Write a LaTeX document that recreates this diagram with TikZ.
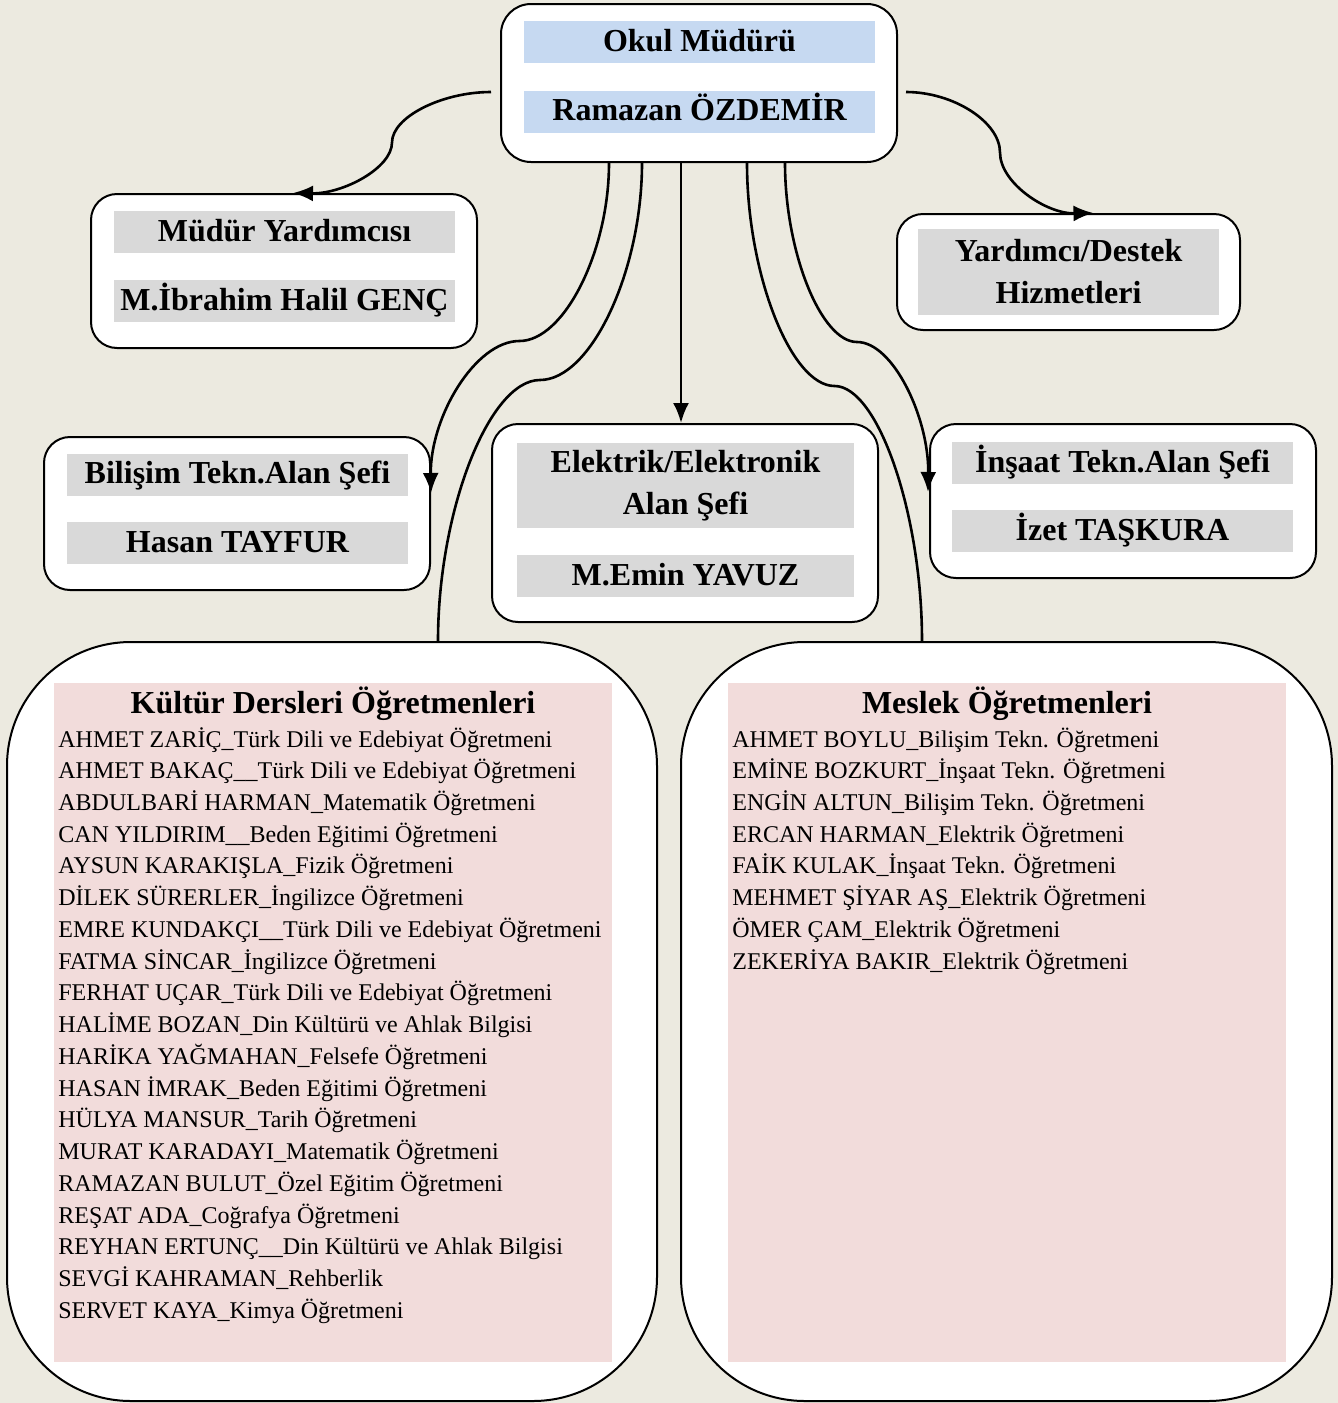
\documentclass[tikz,border=0pt]{standalone}
\usepackage{fontspec}
\setmainfont{Liberation Serif}
\usetikzlibrary{positioning,calc,arrows.meta}
\definecolor{pagebg}{RGB}{236,234,224}
\definecolor{barblue}{RGB}{198,217,241}
\definecolor{bargray}{RGB}{217,217,217}
\definecolor{listpink}{RGB}{242,220,219}

\begin{document}
\begin{tikzpicture}[
      x=0.5pt, y=-0.5pt,
      orgbox/.style={draw,line width=1pt,fill=white,rounded corners=13pt,inner sep=0pt},
      bigbox/.style={orgbox,rounded corners=62pt,minimum width=325pt,minimum height=379.5pt},
      bar/.style={inner sep=0pt,minimum width=170.5pt,minimum height=21pt,align=center,
        font=\bfseries\fontsize{16}{21}\selectfont},
      oneline/.style={text height=12pt,text depth=3pt},
      bluebar/.style={bar,fill=barblue,minimum width=175.5pt,oneline},
      graybar/.style={bar,fill=bargray},
      listarea/.style={fill=listpink,inner sep=0pt,minimum width=279pt,minimum height=339.5pt},
      listhead/.style={anchor=base,inner sep=0pt,font=\bfseries\fontsize{16}{21}\selectfont},
      listitem/.style={anchor=base west,inner sep=0pt,font=\fontsize{12}{14}\selectfont},
      link/.style={draw,line width=1.3pt},
      arrowlink/.style={link,-{Latex[length=10pt,width=8pt]}},
      ]
      \fill[pagebg] (0,0) rectangle (1338,1403);
      \useasboundingbox (0,0) rectangle (1338,1403);

      \node[orgbox,rounded corners=15pt,minimum width=198pt,minimum height=79pt] (mudurBox) at (699,83) {};
      \node[bluebar] (mudurTitle) at (699.5,42) {Okul Müdürü};
      \node[bluebar] (mudurName) at (699.5,111.5) {Ramazan ÖZDEMİR};

      \node[orgbox,minimum width=193pt,minimum height=77pt] (yardBox) at (284,271) {};
      \node[graybar,oneline] (yardTitle) at (284.5,232) {Müdür Yardımcısı};
      \node[graybar,oneline] (yardName) at (284.5,301) {M.İbrahim Halil GENÇ};

      \node[orgbox,minimum width=171.5pt,minimum height=58pt] (destekBox) at (1068.5,272) {};
      \node[graybar,minimum width=150.5pt,minimum height=43pt] (destekBar) at (1068.5,272) {Yardımcı/Destek\\Hizmetleri};

      \node[orgbox,minimum width=193pt,minimum height=76.5pt] (bilisimBox) at (237,513.5) {};
      \node[graybar,oneline] (bilisimTitle) at (237.5,474.5) {Bilişim Tekn.Alan Şefi};
      \node[graybar,oneline] (bilisimName) at (237.5,543) {Hasan TAYFUR};

      \node[orgbox,minimum width=193pt,minimum height=99pt] (elektrikBox) at (685,523) {};
      \node[graybar,minimum width=168.5pt,minimum height=42.5pt] (elektrikTitle) at (685.5,485.5) {Elektrik/Elektronik\\Alan Şefi};
      \node[graybar,oneline,minimum width=168.5pt] (elektrikName) at (685.5,576) {M.Emin YAVUZ};

      \node[orgbox,minimum width=193pt,minimum height=77pt] (insaatBox) at (1123,501) {};
      \node[graybar,oneline] (insaatTitle) at (1122.5,463) {İnşaat Tekn.Alan Şefi};
      \node[graybar,oneline] (insaatName) at (1122.5,531) {İzet TAŞKURA};

      \node[bigbox] (kulturBox) at (332,1021.5) {};
      \node[listarea] (kulturArea) at (333,1022.5) {};
      \node[listhead] (kulturHead) at (333,713) {Kültür Dersleri Öğretmenleri};
      \foreach \teacher [count=\i] in {
        AHMET ZARİÇ\_Türk Dili ve Edebiyat Öğretmeni,
        AHMET BAKAÇ\_\_Türk Dili ve Edebiyat Öğretmeni,
        ABDULBARİ HARMAN\_Matematik Öğretmeni,
        CAN YILDIRIM\_\_Beden Eğitimi Öğretmeni,
        AYSUN KARAKIŞLA\_Fizik Öğretmeni,
        DİLEK SÜRERLER\_İngilizce Öğretmeni,
        EMRE KUNDAKÇI\_\_Türk Dili ve Edebiyat Öğretmeni,
        FATMA SİNCAR\_İngilizce Öğretmeni,
        FERHAT UÇAR\_Türk Dili ve Edebiyat Öğretmeni,
        HALİME BOZAN\_Din Kültürü ve Ahlak Bilgisi,
        HARİKA YAĞMAHAN\_Felsefe Öğretmeni,
        HASAN İMRAK\_Beden Eğitimi Öğretmeni,
        HÜLYA MANSUR\_Tarih Öğretmeni,
        MURAT KARADAYI\_Matematik Öğretmeni,
        RAMAZAN BULUT\_Özel Eğitim Öğretmeni,
        REŞAT ADA\_Coğrafya Öğretmeni,
        REYHAN ERTUNÇ\_\_Din Kültürü ve Ahlak Bilgisi,
        SEVGİ KAHRAMAN\_Rehberlik,
        SERVET KAYA\_Kimya Öğretmeni}
        \node[listitem] (kultur\i) at (58,{747+31.74*(\i-1)}) {\teacher};

      \node[bigbox,minimum width=325.5pt] (meslekBox) at (1006.5,1021.5) {};
      \node[listarea] (meslekArea) at (1007,1022.5) {};
      \node[listhead] (meslekHead) at (1007,713) {Meslek Öğretmenleri};
      \foreach \teacher [count=\i] in {
        AHMET BOYLU\_Bilişim Tekn. Öğretmeni,
        EMİNE BOZKURT\_İnşaat Tekn. Öğretmeni,
        ENGİN ALTUN\_Bilişim Tekn. Öğretmeni,
        ERCAN HARMAN\_Elektrik Öğretmeni,
        FAİK KULAK\_İnşaat Tekn. Öğretmeni,
        MEHMET ŞİYAR AŞ\_Elektrik Öğretmeni,
        ÖMER ÇAM\_Elektrik Öğretmeni,
        ZEKERİYA BAKIR\_Elektrik Öğretmeni}
        \node[listitem] (meslek\i) at (732,{747+31.74*(\i-1)}) {\teacher};

      \path[arrowlink]
      ($(mudurBox.west)+(-9,9)$) .. controls (442,92) and (392,117) .. (392,142.5)
        .. controls (392,168) and (343,194) .. ($(yardBox.north)+(9,0)$);
      \path[arrowlink]
      ($(mudurBox.east)+(8,9)$) .. controls (953.5,92) and (1000,122) .. (1000,152.5)
        .. controls (1000,183) and (1046.5,214) .. ($(destekBox.north)+(25,0)$);
      \path[arrowlink]
      ($(mudurBox.south)+(-90,0)$) .. controls (609,251.5) and (564,341) .. (519.5,341)
        .. controls (475,341) and (430,417.5) .. ($(bilisimBox.north east)+(0,57)$);
      \path[link]
      ($(mudurBox.south)+(-57,0)$) .. controls (642,271) and (591,380) .. (540,380)
        .. controls (489,380) and (438,511) .. ($(kulturBox.north)+(106,0)$);
      \path[arrowlink]
      ($(mudurBox.south)+(-18,0)$) -- ($(elektrikBox.north)+(-4,0)$);
      \path[link]
      ($(mudurBox.south)+(48,0)$) .. controls (747,274) and (791,386) .. (834.5,386)
        .. controls (878,386) and (922,514) .. ($(meslekBox.north)+(-84.5,0)$);
      \path[arrowlink]
      ($(mudurBox.south)+(86,0)$) .. controls (785,252) and (821,342) .. (857,342)
        .. controls (893,342) and (929,417.5) .. ($(insaatBox.north west)+(-1,69)$);
    \end{tikzpicture}
\end{document}
